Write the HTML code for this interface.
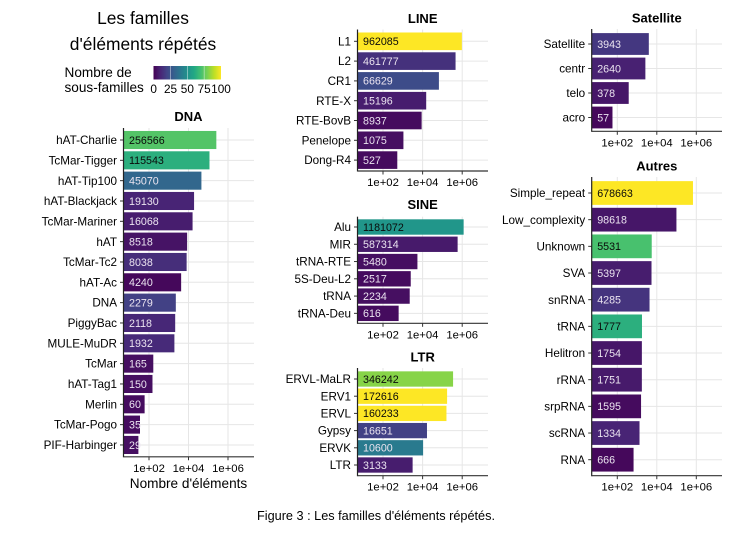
<!DOCTYPE html>
<html lang="fr">
<head>
<meta charset="utf-8">
<title>Les familles d'éléments répétés</title>
<style>
html,body{margin:0;padding:0;background:#fff;width:738px;height:534px;overflow:hidden}
svg{display:block;font-family:"Liberation Sans",Arial,sans-serif}
</style>
</head>
<body>
<svg id="figure" xmlns="http://www.w3.org/2000/svg" width="738" height="534" viewBox="0 0 738 534">
  <defs>
    <linearGradient id="viridis-gradient" x1="0" x2="1" y1="0" y2="0">
      <stop offset="0" stop-color="#440154"/>
      <stop offset="0.1" stop-color="#482475"/>
      <stop offset="0.2" stop-color="#414487"/>
      <stop offset="0.3" stop-color="#355f8d"/>
      <stop offset="0.4" stop-color="#2a788e"/>
      <stop offset="0.5" stop-color="#21918c"/>
      <stop offset="0.6" stop-color="#22a884"/>
      <stop offset="0.7" stop-color="#43bf71"/>
      <stop offset="0.8" stop-color="#7ad151"/>
      <stop offset="0.9" stop-color="#bddf26"/>
      <stop offset="1" stop-color="#fde725"/>
    </linearGradient>
  </defs>
  <rect width="738" height="534" fill="#fff"/>
  <text x="143" y="24" text-anchor="middle" font-size="17.4" fill="#000">Les familles</text>
  <text x="143" y="50" text-anchor="middle" font-size="17.4" fill="#000">d'éléments répétés</text>
  <g>
    <text x="64.500" y="77" font-size="13.6" fill="#000">Nombre de</text>
    <text x="64.500" y="92" font-size="13.6" fill="#000">sous-familles</text>
    <rect x="153.500" y="66" width="67.500" height="13.500" fill="url(#viridis-gradient)"/>
    <g id="legend-ticks"></g>
  </g>
  <g id="panels"></g>
  <text x="376" y="520" text-anchor="middle" font-size="12.7" fill="#000">Figure 3 : Les familles d'éléments répétés.</text>
</svg>
<script>
// ---- Data ----
const axisTicks = [100, 10000, 1000000];
const axisTickLabels = ['1e+02', '1e+04', '1e+06'];
const legendTicks = [0, 25, 50, 75, 100];

const dnaCategories = ['hAT-Charlie','TcMar-Tigger','hAT-Tip100','hAT-Blackjack','TcMar-Mariner','hAT','TcMar-Tc2','hAT-Ac','DNA','PiggyBac','MULE-MuDR','TcMar','hAT-Tag1','Merlin','TcMar-Pogo','PIF-Harbinger'];
const dnaCounts = [256566,115543,45070,19130,16068,8518,8038,4240,2279,2118,1932,165,150,60,35,29];
const dnaSubfamilies = [73,63,33,10,8,5,13,2,19,11,12,4,4,3,3,4];

const lineCategories = ['L1','L2','CR1','RTE-X','RTE-BovB','Penelope','Dong-R4'];
const lineCounts = [962085,461777,66629,15196,8937,1075,527];
const lineSubfamilies = [100,14,23,8,3,4,3];

const sineCategories = ['Alu','MIR','tRNA-RTE','5S-Deu-L2','tRNA','tRNA-Deu'];
const sineCounts = [1181072,587314,5480,2517,2234,616];
const sineSubfamilies = [52,7,4,3,4,3];

const ltrCategories = ['ERVL-MaLR','ERV1','ERVL','Gypsy','ERVK','LTR'];
const ltrCounts = [346242,172616,160233,16651,10600,3133];
const ltrSubfamilies = [82,100,100,19,41,8];

const satelliteCategories = ['Satellite','centr','telo','acro'];
const satelliteCounts = [3943,2640,378,57];
const satelliteSubfamilies = [16,9,6,2];

const autresCategories = ['Simple_repeat','Low_complexity','Unknown','SVA','snRNA','tRNA','Helitron','rRNA','srpRNA','scRNA','RNA'];
const autresCounts = [678663,98618,5531,5397,4285,1777,1754,1751,1595,1334,666];
const autresSubfamilies = [100,6,71,8,15,63,6,7,3,10,2];

// ---- Rendering ----
const NS = 'http://www.w3.org/2000/svg';
const VIRIDIS = ['#440154','#482475','#414487','#355f8d','#2a788e','#21918c','#22a884','#43bf71','#7ad151','#bddf26','#fde725'];

function make(parent, tag, attrs, content) {
  const el = document.createElementNS(NS, tag);
  for (const k in attrs) el.setAttribute(k, attrs[k]);
  if (content !== undefined) el.textContent = content;
  parent.appendChild(el);
  return el;
}

function viridis(v) {
  const t = Math.max(0, Math.min(1, v / 100)) * (VIRIDIS.length - 1);
  const i = Math.min(Math.floor(t), VIRIDIS.length - 2);
  const f = t - i;
  const a = parseInt(VIRIDIS[i].slice(1), 16), b = parseInt(VIRIDIS[i + 1].slice(1), 16);
  const mix = s => Math.round(((a >> s) & 255) * (1 - f) + ((b >> s) & 255) * f);
  return 'rgb(' + mix(16) + ',' + mix(8) + ',' + mix(0) + ')';
}

function drawPanel(name, categories, counts, subfamilies, box) {
  const root = document.getElementById('panels');
  const g = make(root, 'g', {});
  
  

  // Axis functions: log10 x-scale through the two pixel anchors, band y-scale
  const x = v => box.x100 + (Math.log10(v) - 2) * box.perDecade;
  const y = i => box.firstRow + i * box.rowStep;
  const barH = box.rowStep * 0.89;

  const title = make(g, 'text', {x: box.titleX, y: box.titleY, 'text-anchor': 'middle', 'font-size': 13, 'font-weight': 'bold', fill: '#000'}, name);
  
  

  axisTicks.forEach((t, i) => {
    const grid = make(g, 'line', {x1: x(t), x2: x(t), y1: box.top, y2: box.bottom, stroke: '#e6e6e6', 'stroke-width': 1});
    
    
  });
  categories.forEach((c, i) => {
    const grid = make(g, 'line', {x1: box.left, x2: box.right, y1: y(i), y2: y(i), stroke: '#e6e6e6', 'stroke-width': 1});
    
    
  });

  categories.forEach((c, i) => {
    const bar = make(g, 'rect', {x: box.left, y: y(i) - barH / 2, width: Math.max(0, x(counts[i]) - box.left), height: barH, fill: viridis(subfamilies[i])});
    
    

    const value = make(g, 'text', {x: box.left + 5.5, y: y(i) + 3.8, 'font-size': 10.7, fill: subfamilies[i] >= 45 ? '#0a0a0a' : '#ebe4f0'}, String(counts[i]));
    
    

    const tick = make(g, 'line', {x1: box.left - 3.5, x2: box.left, y1: y(i), y2: y(i), stroke: '#333', 'stroke-width': 1});
    
    

    const label = make(g, 'text', {x: box.left - 6.5, y: y(i) + 4.1, 'text-anchor': 'end', 'font-size': 11.7, fill: '#000'}, c);
    
    
  });

  const yAxis = make(g, 'line', {x1: box.left, x2: box.left, y1: box.top, y2: box.bottom + 0.5, stroke: '#222', 'stroke-width': 1.2});
  
  

  const xAxis = make(g, 'line', {x1: box.left, x2: box.right, y1: box.bottom, y2: box.bottom, stroke: '#333', 'stroke-width': 1.2});
  
  

  axisTicks.forEach((t, i) => {
    const tick = make(g, 'line', {x1: x(t), x2: x(t), y1: box.bottom, y2: box.bottom + 3.5, stroke: '#333', 'stroke-width': 1});
    
    

    const label = make(g, 'text', {x: x(t), y: box.bottom + 15, 'text-anchor': 'middle', 'font-size': 11.3, fill: '#000'}, axisTickLabels[i]);
    
    
  });

  if (box.xTitle) {
    const xt = make(g, 'text', {x: x(axisTicks[1]), y: box.bottom + 31, 'text-anchor': 'middle', 'font-size': 13.6, fill: '#000'}, box.xTitle);
    
    
  }
}

// Legend ticks
(function () {
  const host = document.getElementById('legend-ticks');
  const lx = v => 153.7 + v * 0.673;
  legendTicks.forEach(t => {
    if (t > 0 && t < 100) {
      const m = make(host, 'line', {x1: lx(t), x2: lx(t), y1: 66, y2: 79.5, stroke: '#fff', 'stroke-width': 0.7, 'stroke-opacity': 0.6});
      
      
    }
    const l = make(host, 'text', {x: lx(t), y: 92.8, 'text-anchor': 'middle', 'font-size': 11.8, fill: '#000'}, String(t));
    
    
  });
})();

drawPanel('DNA', dnaCategories, dnaCounts, dnaSubfamilies, {left: 123.5, right: 254, top: 128, bottom: 456.8, x100: 149, perDecade: 19.75, firstRow: 140, rowStep: 20.33, titleX: 188.5, titleY: 121, xTitle: "Nombre d'éléments"});
drawPanel('LINE', lineCategories, lineCounts, lineSubfamilies, {left: 357.5, right: 488, top: 29.5, bottom: 171, x100: 383, perDecade: 19.8, firstRow: 41.3, rowStep: 19.8, titleX: 422.7, titleY: 23});
drawPanel('SINE', sineCategories, sineCounts, sineSubfamilies, {left: 357.5, right: 488, top: 216.7, bottom: 323.3, x100: 383, perDecade: 19.8, firstRow: 227, rowStep: 17.27, titleX: 422.7, titleY: 209});
drawPanel('LTR', ltrCategories, ltrCounts, ltrSubfamilies, {left: 357.5, right: 488, top: 368, bottom: 475.7, x100: 383, perDecade: 19.8, firstRow: 379, rowStep: 17.2, titleX: 422.7, titleY: 361.5});
drawPanel('Satellite', satelliteCategories, satelliteCounts, satelliteSubfamilies, {left: 591.7, right: 722, top: 29, bottom: 131.3, x100: 617.3, perDecade: 19.75, firstRow: 44, rowStep: 24.5, titleX: 656.8, titleY: 22.5});
drawPanel('Autres', autresCategories, autresCounts, autresSubfamilies, {left: 591.7, right: 722, top: 177, bottom: 475.7, x100: 617.3, perDecade: 19.75, firstRow: 193, rowStep: 26.67, titleX: 656.8, titleY: 170.5});
</script>
</body>
</html>
